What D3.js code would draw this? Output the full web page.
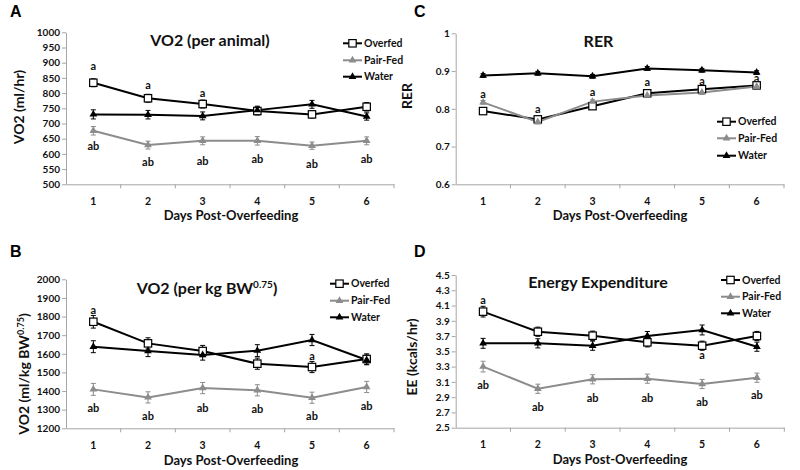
<!DOCTYPE html>
<html><head><meta charset="utf-8">
<script src="https://cdn.jsdelivr.net/npm/d3@7"></script>
<style>body{margin:0;background:#fff}</style>
</head><body><svg id="c" width="800" height="470"></svg>
<script>
// ---------- data ----------
const days = [1, 2, 3, 4, 5, 6];
const seriesNames = ["Overfed", "Pair-Fed", "Water"];

// A: VO2 (per animal)
const vo2AnimalOverfed = [834, 783, 764, 741, 730, 755];
const vo2AnimalPairFed = [676, 629, 643, 643, 627, 643];
const vo2AnimalWater   = [730, 729, 725, 744, 763, 723];
const vo2AnimalErrOverfed = [13, 13, 13, 13, 12, 14];
const vo2AnimalErrPairFed = [14, 13, 13, 14, 12, 13];
const vo2AnimalErrWater   = [15, 14, 13, 13, 13, 12];
const vo2AnimalTicks = [500, 550, 600, 650, 700, 750, 800, 850, 900, 950, 1000];
const vo2AnimalLetters = [
  {day: 1, text: "a", value: 889}, {day: 2, text: "a", value: 827}, {day: 3, text: "a", value: 801},
  {day: 1, text: "ab", value: 624}, {day: 2, text: "ab", value: 572}, {day: 3, text: "ab", value: 577},
  {day: 4, text: "ab", value: 582}, {day: 5, text: "ab", value: 566}, {day: 6, text: "ab", value: 582}
];

// B: VO2 (per kg BW^0.75)
const vo2KgOverfed = [1772, 1656, 1615, 1547, 1529, 1572];
const vo2KgPairFed = [1409, 1366, 1416, 1404, 1364, 1422];
const vo2KgWater   = [1638, 1615, 1594, 1617, 1674, 1567];
const vo2KgErrOverfed = [34, 30, 30, 30, 30, 28];
const vo2KgErrPairFed = [32, 30, 30, 30, 30, 30];
const vo2KgErrWater   = [32, 30, 28, 32, 30, 26];
const vo2KgTicks = [1200, 1300, 1400, 1500, 1600, 1700, 1800, 1900, 2000];
const vo2KgLetters = [
  {day: 1, text: "a", value: 1835}, {day: 5, text: "a", value: 1588},
  {day: 1, text: "ab", value: 1307}, {day: 2, text: "ab", value: 1266}, {day: 3, text: "ab", value: 1307},
  {day: 4, text: "ab", value: 1302}, {day: 5, text: "ab", value: 1266}, {day: 6, text: "ab", value: 1320}
];

// C: RER
const rerOverfed = [0.794, 0.772, 0.807, 0.841, 0.852, 0.862];
const rerPairFed = [0.817, 0.765, 0.819, 0.835, 0.843, 0.859];
const rerWater   = [0.888, 0.894, 0.886, 0.907, 0.902, 0.896];
const rerErrOverfed = [0.005, 0.005, 0.005, 0.005, 0.005, 0.005];
const rerErrPairFed = [0.005, 0.005, 0.005, 0.005, 0.005, 0.005];
const rerErrWater   = [0.005, 0.005, 0.005, 0.005, 0.005, 0.005];
const rerTicks = [0.6, 0.7, 0.8, 0.9, 1];
const rerLetters = [
  {day: 1, text: "a", value: 0.838}, {day: 2, text: "a", value: 0.799}, {day: 3, text: "a", value: 0.844},
  {day: 4, text: "a", value: 0.870}, {day: 5, text: "a", value: 0.874}, {day: 6, text: "a", value: 0.880}
];

// D: Energy Expenditure
const eeOverfed = [4.02, 3.757, 3.705, 3.618, 3.574, 3.701];
const eePairFed = [3.30, 3.01, 3.134, 3.142, 3.072, 3.155];
const eeWater   = [3.605, 3.605, 3.574, 3.70, 3.78, 3.561];
const eeErrOverfed = [0.07, 0.06, 0.06, 0.06, 0.06, 0.06];
const eeErrPairFed = [0.07, 0.06, 0.06, 0.06, 0.06, 0.06];
const eeErrWater   = [0.065, 0.06, 0.06, 0.06, 0.065, 0.06];
const eeTicks = [2.5, 2.7, 2.9, 3.1, 3.3, 3.5, 3.7, 3.9, 4.1, 4.3, 4.5];
const eeLetters = [
  {day: 1, text: "a", value: 4.17}, {day: 5, text: "a", value: 3.452},
  {day: 1, text: "ab", value: 3.06}, {day: 2, text: "ab", value: 2.775}, {day: 3, text: "ab", value: 2.885},
  {day: 4, text: "ab", value: 2.885}, {day: 5, text: "ab", value: 2.833}, {day: 6, text: "ab", value: 2.928}
];

// ---------- drawing ----------
const svg = d3.select("#c");
const FONT = "Lato, 'Open Sans', sans-serif";
const styles = {
  "Overfed": {color: "#000", marker: "square"},
  "Pair-Fed": {color: "#8c8c8c", marker: "triangle"},
  "Water": {color: "#000", marker: "triangle"}
};

function marker(sel, name, cx, cy) {
  const st = styles[name];
  if (st.marker === "square") {
    sel.append("rect").attr("x", cx - 3.7).attr("y", cy - 3.7).attr("width", 7.4).attr("height", 7.4)
      .attr("fill", "#fff").attr("stroke", st.color).attr("stroke-width", 1.2);
  } else {
    sel.append("path").attr("d", d3.symbol(d3.symbolTriangle, 26)())
      .attr("transform", `translate(${cx},${cy})`).attr("fill", st.color);
  }
}

function drawPanel(p) {
  const g = svg.append("g");
  const x = d3.scaleBand().domain(days).range([p.x0, p.x1]);
  const y = d3.scaleLinear().domain(p.domain).range([p.yBot, p.yTop]);
  const cx = d => x(d) + x.bandwidth() / 2;

  // y axis
  const ya = g.append("g").attr("transform", `translate(${p.x0},0)`)
    .call(d3.axisLeft(y).tickValues(p.ticks).tickFormat(p.fmt).tickSize(4).tickSizeOuter(0).tickPadding(2));
  ya.selectAll("path,line").attr("stroke", "#a6a6a6");
  ya.selectAll("text").attr("font-family", FONT).attr("font-weight", "bold").attr("font-size", 10).attr("fill", "#111");

  // x axis
  const xa = g.append("g").attr("transform", `translate(0,${p.yBot})`)
    .call(d3.axisBottom(x).tickSize(0).tickSizeOuter(0).tickPadding(13));
  xa.select(".domain").attr("stroke", "#a6a6a6");
  xa.selectAll("text").attr("font-family", FONT).attr("font-weight", "bold").attr("font-size", 10.5).attr("fill", "#111");
  g.selectAll(".btick").data(days).enter().append("line")
    .attr("x1", d => x(d) + x.bandwidth()).attr("x2", d => x(d) + x.bandwidth())
    .attr("y1", p.yBot).attr("y2", p.yBot + 4).attr("stroke", "#a6a6a6");

  // series
  const line = d3.line().x((v, i) => cx(days[i])).y(v => y(v));
  p.series.forEach(s => {
    const col = styles[s.name].color;
    g.append("path").datum(s.values).attr("d", line).attr("fill", "none")
      .attr("stroke", col).attr("stroke-width", 2);
    s.values.forEach((v, i) => {
      const e = s.err[i], xx = cx(days[i]);
      g.append("line").attr("x1", xx).attr("x2", xx).attr("y1", y(v - e)).attr("y2", y(v + e))
        .attr("stroke", col).attr("stroke-width", 1);
      [v - e, v + e].forEach(w => g.append("line").attr("x1", xx - 2.5).attr("x2", xx + 2.5)
        .attr("y1", y(w)).attr("y2", y(w)).attr("stroke", col).attr("stroke-width", 1));
    });
  });
  p.series.forEach(s => s.values.forEach((v, i) => marker(g, s.name, cx(days[i]), y(v))));

  // significance letters
  g.selectAll(".lt").data(p.letters).enter().append("text")
    .attr("x", d => cx(d.day)).attr("y", d => y(d.value)).attr("dy", "0.35em")
    .attr("text-anchor", "middle").attr("font-family", FONT).attr("font-weight", "bold")
    .attr("font-size", 11).attr("fill", "#111").text(d => d.text);

  // legend
  seriesNames.forEach((n, i) => {
    const ly = p.legY[i];
    g.append("line").attr("x1", p.legX).attr("x2", p.legX + 19).attr("y1", ly).attr("y2", ly)
      .attr("stroke", styles[n].color).attr("stroke-width", 2);
    marker(g, n, p.legX + 9.5, ly);
    g.append("text").attr("x", p.legX + 21).attr("y", ly).attr("dy", "0.35em")
      .attr("font-family", FONT).attr("font-weight", "bold").attr("font-size", 10.5).attr("fill", "#111").text(n);
  });

  // panel letter
  g.append("text").attr("x", p.letterX).attr("y", p.letterY).attr("font-family", "'Liberation Sans', Arial, sans-serif")
    .attr("font-weight", "bold").attr("font-size", 16).text(p.letter);

  // title
  const t = g.append("text").attr("x", p.titleX).attr("y", p.titleY).attr("text-anchor", "middle")
    .attr("font-family", FONT).attr("font-weight", "bold").attr("font-size", 16).attr("fill", "#111");
  p.title.forEach(part => {
    const ts = t.append("tspan").text(part.t);
    if (part.sup) ts.attr("font-size", 10).attr("dy", -6);
    else if (part.after) ts.attr("dy", 6);
  });

  // y label
  const yl = g.append("text").attr("transform", `translate(${p.ylX},${p.ylY}) rotate(-90)`)
    .attr("text-anchor", "middle").attr("font-family", FONT).attr("font-weight", "bold")
    .attr("font-size", 14).attr("fill", "#111");
  p.ylabel.forEach(part => {
    const ts = yl.append("tspan").text(part.t);
    if (part.sup) ts.attr("font-size", 9).attr("dy", -5);
    else if (part.after) ts.attr("dy", 5);
  });

  // x label
  g.append("text").attr("x", p.xlX).attr("y", p.xlY).attr("text-anchor", "middle")
    .attr("font-family", FONT).attr("font-weight", "bold").attr("font-size", 13).attr("fill", "#111")
    .text("Days Post-Overfeeding");
}

const mkSeries = (o, pf, w, eo, epf, ew) => [
  {name: "Overfed", values: o, err: eo},
  {name: "Pair-Fed", values: pf, err: epf},
  {name: "Water", values: w, err: ew}
];

drawPanel({
  x0: 66, x1: 394, yTop: 32.3, yBot: 184.3, domain: [500, 1000], ticks: vo2AnimalTicks, fmt: d3.format("d"),
  series: mkSeries(vo2AnimalOverfed, vo2AnimalPairFed, vo2AnimalWater, vo2AnimalErrOverfed, vo2AnimalErrPairFed, vo2AnimalErrWater),
  letters: vo2AnimalLetters, legX: 343, legY: [43.3, 60.3, 76.7],
  letter: "A", letterX: 10, letterY: 16.5,
  title: [{t: "VO2 (per animal)"}], titleX: 210, titleY: 46,
  ylabel: [{t: "VO2 (ml/hr)"}], ylX: 24, ylY: 107, xlX: 231, xlY: 220
});
drawPanel({
  x0: 66, x1: 394, yTop: 279.3, yBot: 428.3, domain: [1200, 2000], ticks: vo2KgTicks, fmt: d3.format("d"),
  series: mkSeries(vo2KgOverfed, vo2KgPairFed, vo2KgWater, vo2KgErrOverfed, vo2KgErrPairFed, vo2KgErrWater),
  letters: vo2KgLetters, legX: 330, legY: [283.7, 300.7, 317.3],
  letter: "B", letterX: 10, letterY: 257,
  title: [{t: "VO2 (per kg BW"}, {t: "0.75", sup: true}, {t: ")", after: true}], titleX: 207, titleY: 294,
  ylabel: [{t: "VO2 (ml/kg BW"}, {t: "0.75", sup: true}, {t: ")", after: true}], ylX: 29, ylY: 374, xlX: 231, xlY: 465
});
drawPanel({
  x0: 455.7, x1: 784, yTop: 33.3, yBot: 184.3, domain: [0.6, 1], ticks: rerTicks, fmt: d3.format("~g"),
  series: mkSeries(rerOverfed, rerPairFed, rerWater, rerErrOverfed, rerErrPairFed, rerErrWater),
  letters: rerLetters, legX: 717, legY: [121.7, 138.3, 155.7],
  letter: "C", letterX: 414, letterY: 17,
  title: [{t: "RER"}], titleX: 598.5, titleY: 46.5,
  ylabel: [{t: "RER"}], ylX: 412, ylY: 96, xlX: 620, xlY: 220
});
drawPanel({
  x0: 455.7, x1: 784.3, yTop: 275, yBot: 427.7, domain: [2.5, 4.5], ticks: eeTicks, fmt: d3.format(".1f"),
  series: mkSeries(eeOverfed, eePairFed, eeWater, eeErrOverfed, eeErrPairFed, eeErrWater),
  letters: eeLetters, legX: 721, legY: [280, 296.7, 313.3],
  letter: "D", letterX: 414, letterY: 257,
  title: [{t: "Energy Expenditure"}], titleX: 598, titleY: 288,
  ylabel: [{t: "EE (kcals/hr)"}], ylX: 417, ylY: 357, xlX: 620, xlY: 464
});
</script>
</body></html>
